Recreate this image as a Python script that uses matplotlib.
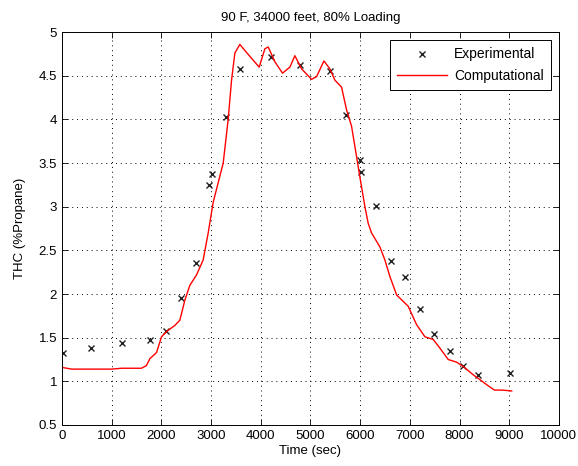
import matplotlib
matplotlib.use("Agg")
import matplotlib.pyplot as plt
from matplotlib.ticker import FormatStrFormatter

# Экспериментальные точки
exp_time = [27, 584, 1207, 1771, 2093, 2394, 2703, 2958, 3018, 3300, 3581,
            4199, 4789, 5392, 5708, 5996, 6010, 6312, 6620, 6908, 7203,
            7491, 7807, 8075, 8376, 9014]
exp_thc = [1.32, 1.38, 1.44, 1.47, 1.58, 1.96, 2.35, 3.25, 3.375, 4.03, 4.58,
           4.71, 4.62, 4.56, 4.05, 3.53, 3.40, 3.01, 2.38, 2.19, 1.83,
           1.545, 1.35, 1.18, 1.075, 1.095]

# Расчетная кривая
comp_time = [0, 200, 600, 1000, 1200, 1400, 1600, 1700, 1771, 1905, 2005,
             2106, 2273, 2374, 2475, 2575, 2710, 2843, 2944, 3044, 3246,
             3346, 3414, 3481, 3581, 3682, 3816, 3970, 4085, 4152, 4286,
             4440, 4588, 4688, 4822, 5023, 5124, 5272, 5392, 5493, 5627,
             5728, 5829, 5930, 5996, 6097, 6163, 6231, 6398, 6499, 6600,
             6734, 6968, 7136, 7304, 7471, 7606, 7773, 7941, 8075, 8276,
             8410, 8550, 8702, 8850, 9050]
comp_thc = [1.16, 1.14, 1.14, 1.14, 1.15, 1.15, 1.15, 1.18, 1.26, 1.33, 1.51,
            1.57, 1.64, 1.70, 1.93, 2.10, 2.22, 2.39, 2.70, 3.05, 3.50,
            4.00, 4.45, 4.76, 4.86, 4.79, 4.70, 4.60, 4.81, 4.83, 4.66,
            4.53, 4.60, 4.73, 4.58, 4.46, 4.49, 4.67, 4.58, 4.45, 4.37,
            4.11, 3.92, 3.57, 3.34, 3.00, 2.81, 2.70, 2.54, 2.39, 2.20,
            1.99, 1.86, 1.65, 1.51, 1.48, 1.38, 1.25, 1.22, 1.17, 1.075,
            1.02, 0.96, 0.90, 0.90, 0.89]

plt.rcParams['font.family'] = ['Liberation Sans', 'DejaVu Sans']
plt.rcParams['font.size'] = 9.5

fig = plt.figure(figsize=(5.78, 4.66), dpi=100)
ax = fig.add_axes([0.107, 0.088, 0.860, 0.843])

ax.plot(exp_time, exp_thc, 'x', color='#222222', markersize=5, mew=1.0,
        label='Experimental')
ax.plot(comp_time, comp_thc, '-', color='red', linewidth=1.0,
        label='Computational')

ax.set_xlim(0, 10000)
ax.set_ylim(0.5, 5)
ax.set_xticks(range(0, 10001, 1000))
ax.set_yticks([0.5 * i for i in range(1, 11)])
ax.yaxis.set_major_formatter(FormatStrFormatter('%g'))
ax.tick_params(direction='in', top=True, right=True, length=4, width=0.6)
ax.grid(True, linestyle=(0, (1, 4)), color='black', linewidth=0.7)
for s in ax.spines.values():
    s.set_linewidth(0.7)

ax.set_title("90 F, 34000 feet, 80% Loading", fontsize=9.5, pad=8)
ax.set_xlabel("Time (sec)", labelpad=2)
ax.set_ylabel("THC (%Propane)", labelpad=9)

leg = ax.legend(loc='upper right', fancybox=False, edgecolor='black',
                framealpha=1, borderaxespad=0.6, handlelength=3.6,
                borderpad=0.5, labelspacing=0.55, handletextpad=0.5,
                fontsize=10)
leg.get_frame().set_linewidth(0.7)

fig.savefig("out.png", dpi=100)
